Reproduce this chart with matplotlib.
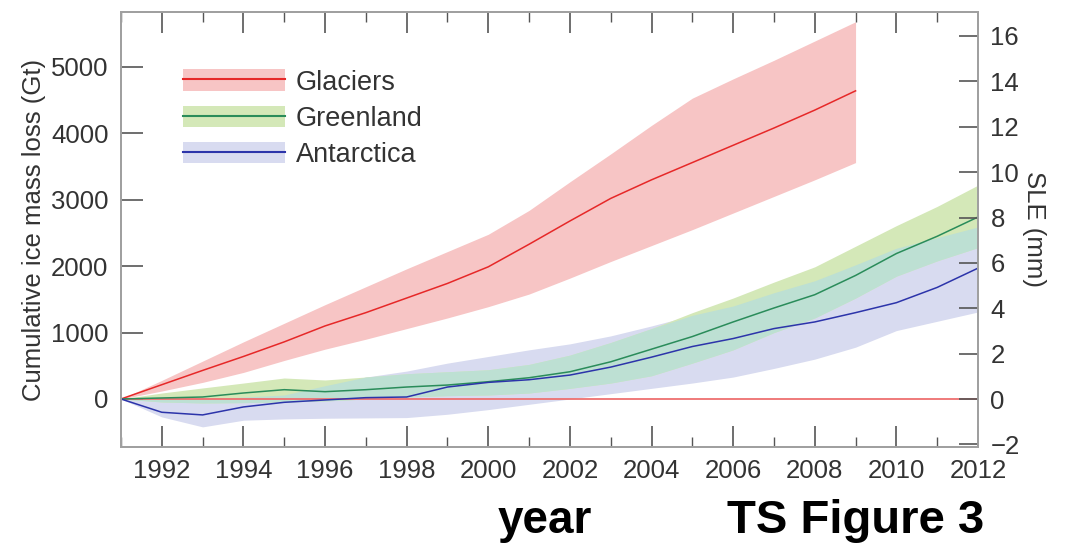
import numpy as np
import matplotlib.pyplot as plt
from matplotlib.patches import Patch
from matplotlib.lines import Line2D
from matplotlib.legend_handler import HandlerTuple

plt.rcParams['font.family'] = ['Liberation Sans', 'DejaVu Sans']

# cumulative ice mass loss (Gt)
years = np.arange(1991, 2013)
glacier_years = np.arange(1991, 2010)

glaciers = [0, 215, 430, 640, 860, 1100, 1300, 1520, 1740, 1990,
            2330, 2680, 3020, 3300, 3560, 3820, 4080, 4350, 4640]
glaciers_lo = [0, 120, 250, 400, 580, 750, 900, 1060, 1220, 1390,
               1580, 1820, 2070, 2310, 2550, 2800, 3050, 3300, 3560]
glaciers_hi = [0, 280, 570, 860, 1140, 1420, 1690, 1960, 2220, 2480,
               2840, 3270, 3690, 4120, 4530, 4820, 5100, 5390, 5680]

greenland = [0, 15, 30, 90, 140, 110, 140, 180, 210, 260, 320,
             410, 560, 750, 940, 1160, 1370, 1570, 1860, 2190, 2450, 2740]
greenland_lo = [0, -45, -60, -55, -45, -30, 0, 30, 50, 60, 90,
                160, 240, 350, 540, 740, 1000, 1220, 1520, 1850, 2080, 2280]
greenland_hi = [0, 90, 166, 240, 316, 286, 331, 380, 410, 440, 520,
                660, 850, 1060, 1300, 1520, 1760, 1990, 2300, 2610, 2900, 3220]

antarctica = [0, -200, -240, -120, -50, -15, 20, 30, 180, 250, 290,
              360, 480, 630, 790, 910, 1060, 1160, 1300, 1450, 1680, 1970]
antarctica_lo = [0, -270, -420, -320, -300, -290, -285, -280, -230, -160, -80,
                 0, 80, 160, 240, 330, 460, 600, 780, 1030, 1170, 1310]
antarctica_hi = [0, 0, 0, 30, 60, 200, 330, 420, 540, 640, 740,
                 830, 950, 1100, 1260, 1400, 1600, 1780, 2020, 2270, 2430, 2590]

red_fill = '#f7c5c5'
green_fill = '#d4e8b8'
blue_fill = '#d8dbf0'
overlap_fill = '#bde0d3'
red_line = '#e62828'
green_line = '#2a8c5a'
blue_line = '#2c34aa'

fig = plt.figure(figsize=(10.65, 5.43), dpi=100)
ax = fig.add_axes([0.1136, 0.1768, 0.8047, 0.8012])

ax.fill_between(glacier_years, glaciers_lo, glaciers_hi, color=red_fill, lw=0)
ax.fill_between(years, antarctica_lo, antarctica_hi, color=blue_fill, lw=0)
ax.fill_between(years, greenland_lo, greenland_hi, color=green_fill, lw=0)
lo = np.maximum(greenland_lo, antarctica_lo)
hi = np.minimum(greenland_hi, antarctica_hi)
ax.fill_between(years, lo, hi, where=hi > lo, interpolate=True, color=overlap_fill, lw=0)

ax.axhline(0, color='#ee7070', lw=1.3)
ax.plot(glacier_years, glaciers, color=red_line, lw=1.1)
ax.plot(years, greenland, color=green_line, lw=1.1)
ax.plot(years, antarctica, color=blue_line, lw=1.1)

ax.set_xlim(1991, 2012)
ax.set_ylim(-723, 5828)
ax.set_xticks(np.arange(1992, 2013, 2))
ax.set_xticks(np.arange(1991, 2013, 2), minor=True)
ax.set_yticks(np.arange(0, 5001, 1000))
ax.tick_params(axis='x', which='major', direction='in', top=True, length=15, width=1.2,
               color='#555555', labelsize=18.5, labelcolor='#333333', pad=9)
ax.tick_params(axis='x', which='minor', direction='in', top=True, length=7, width=1.0,
               color='#555555')
ax.tick_params(axis='y', direction='in', right=False, length=16, width=1.2,
               color='#555555', labelsize=18.5, labelcolor='#333333', pad=9)
for s in ax.spines.values():
    s.set_color('#a0a0a0')
    s.set_linewidth(1.3)
ax.set_ylabel('Cumulative ice mass loss (Gt)', fontsize=18.5, color='#333333')
ax.yaxis.set_label_coords(-0.088, 0.5)

ax2 = ax.twinx()
ax2.set_ylim(-2.115, 17.06)
ax2.set_yticks(np.arange(-2, 17, 2))
ax2.tick_params(axis='y', direction='in', length=14, width=1.2, color='#555555',
                labelsize=18.5, labelcolor='#333333', pad=9)
for s in ax2.spines.values():
    s.set_color('#a0a0a0')
    s.set_linewidth(1.3)
ax2.set_ylabel('SLE (mm)', fontsize=18.5, color='#333333', rotation=270, va='bottom')
ax2.yaxis.set_label_coords(1.051, 0.5)

handles = [
    (Patch(color=red_fill, lw=0), Line2D([], [], color=red_line, lw=1.5)),
    (Patch(color=green_fill, lw=0), Line2D([], [], color=green_line, lw=1.5)),
    (Patch(color=blue_fill, lw=0), Line2D([], [], color=blue_line, lw=1.5)),
]
ax.legend(handles, ['Glaciers', 'Greenland', 'Antarctica'],
          handler_map={tuple: HandlerTuple(ndivide=1, pad=0)},
          loc='upper left', bbox_to_anchor=(0.072, 0.868), frameon=False,
          fontsize=19.5, handlelength=3.78, handleheight=0.85, labelspacing=0.37,
          handletextpad=0.4, borderpad=0, borderaxespad=0, labelcolor='#333333')

fig.text(0.467, 0.018, 'year', fontsize=33, fontweight='bold', va='baseline')
fig.text(0.683, 0.018, 'TS Figure 3', fontsize=34, fontweight='bold', va='baseline')

fig.savefig('out.png', dpi=100)
